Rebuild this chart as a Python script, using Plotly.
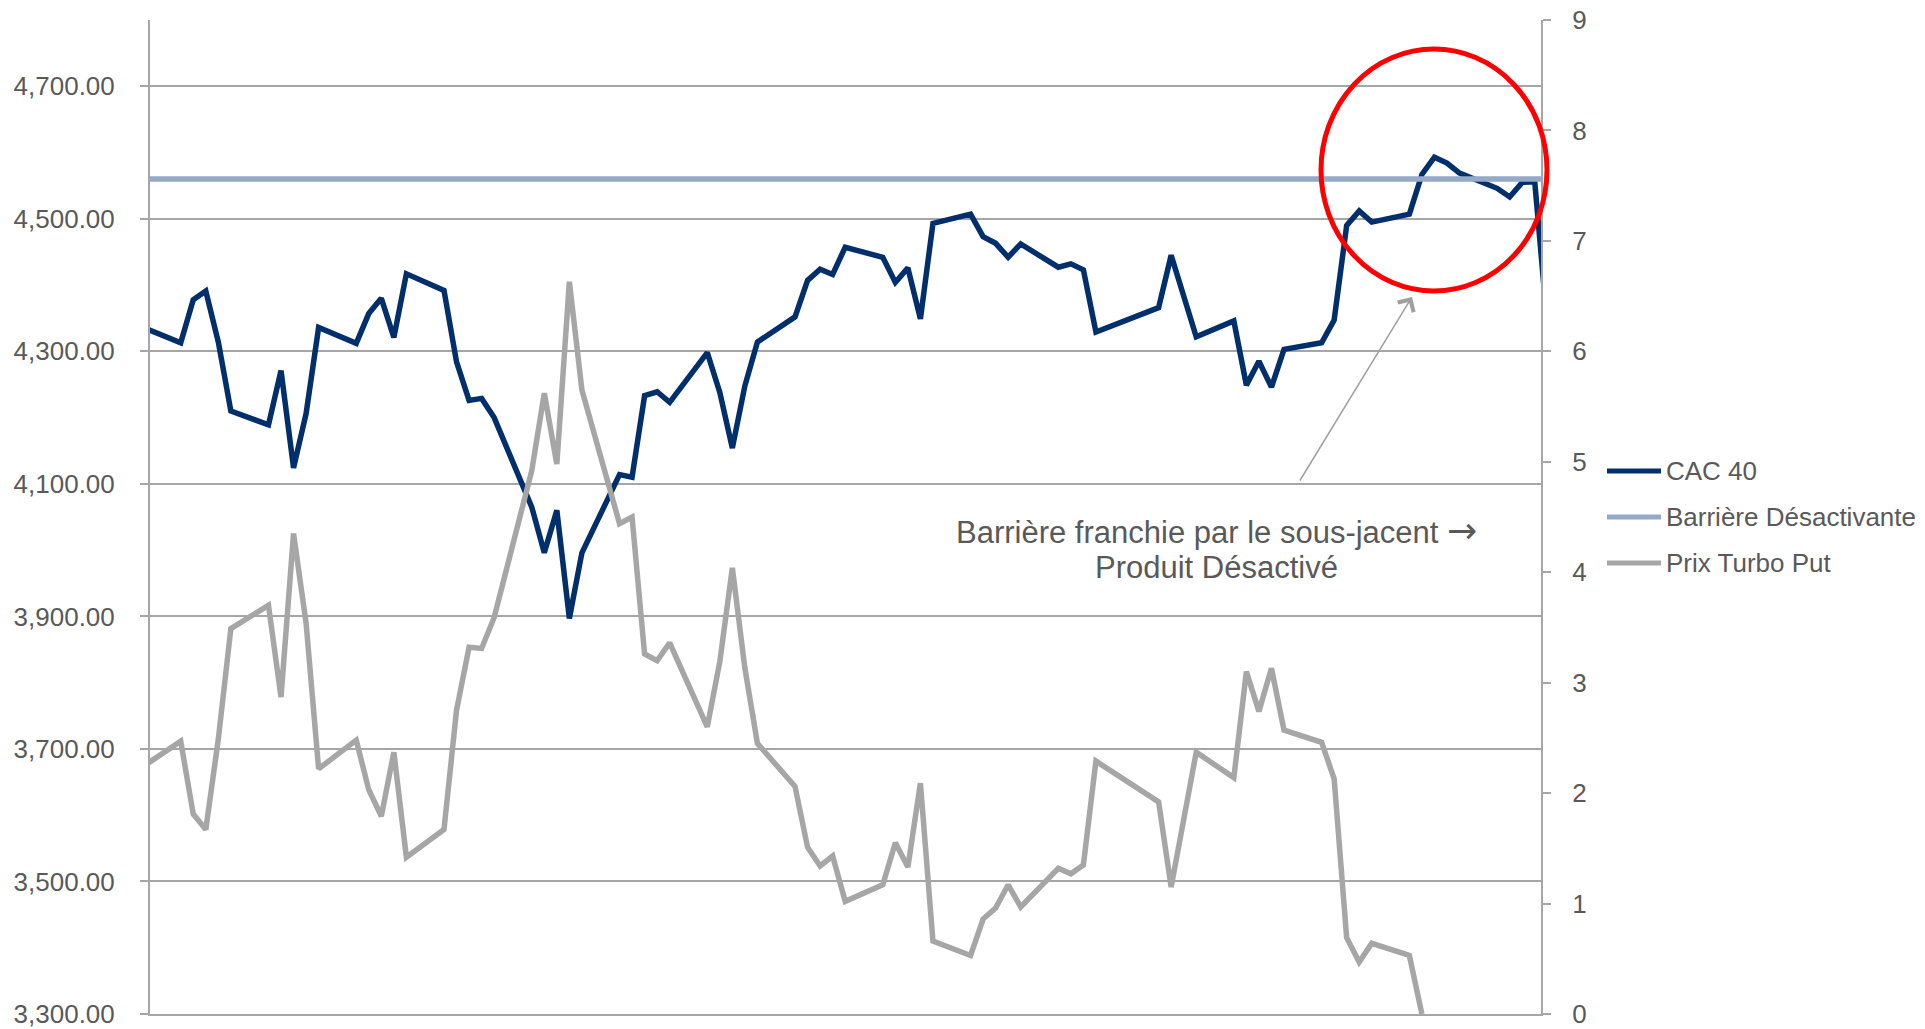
import plotly.graph_objects as go

# Trading days shown on the chart (2016)
dates = [
    "2016-01-08", "2016-01-11", "2016-01-12", "2016-01-13", "2016-01-14", "2016-01-15",
    "2016-01-18", "2016-01-19", "2016-01-20", "2016-01-21", "2016-01-22",
    "2016-01-25", "2016-01-26", "2016-01-27", "2016-01-28", "2016-01-29",
    "2016-02-01", "2016-02-02", "2016-02-03", "2016-02-04", "2016-02-05",
    "2016-02-08", "2016-02-09", "2016-02-10", "2016-02-11", "2016-02-12",
    "2016-02-15", "2016-02-16", "2016-02-17", "2016-02-18", "2016-02-19",
    "2016-02-22", "2016-02-23", "2016-02-24", "2016-02-25", "2016-02-26",
    "2016-02-29", "2016-03-01", "2016-03-02", "2016-03-03", "2016-03-04",
    "2016-03-07", "2016-03-08", "2016-03-09", "2016-03-10", "2016-03-11",
    "2016-03-14", "2016-03-15", "2016-03-16", "2016-03-17", "2016-03-18",
    "2016-03-21", "2016-03-22", "2016-03-23", "2016-03-24",
    "2016-03-29", "2016-03-30", "2016-03-31", "2016-04-01",
    "2016-04-04", "2016-04-05", "2016-04-06", "2016-04-07", "2016-04-08",
    "2016-04-11", "2016-04-12", "2016-04-13", "2016-04-14", "2016-04-15",
    "2016-04-18", "2016-04-19", "2016-04-20", "2016-04-21", "2016-04-22",
    "2016-04-25", "2016-04-26", "2016-04-27", "2016-04-28", "2016-04-29",
]

# CAC 40 closing levels (left axis)
cac40 = [
    4336, 4313, 4378, 4391, 4314, 4210,
    4189, 4271, 4124, 4206, 4336,
    4312, 4357, 4380, 4321, 4417,
    4392, 4284, 4226, 4229, 4200,
    4065, 3996, 4060, 3897, 3996,
    4114, 4110, 4233, 4239, 4223,
    4298, 4238, 4154, 4248, 4314,
    4352, 4407, 4424, 4416, 4457,
    4442, 4404, 4426, 4349, 4493,
    4507, 4473, 4463, 4442, 4462,
    4427, 4432, 4423, 4329,
    4366, 4445, 4383, 4322,
    4346, 4249, 4285, 4246, 4303,
    4313, 4347, 4490, 4512, 4495,
    4507, 4567, 4593, 4584, 4569,
    4546, 4533, 4555, 4556, 4340,
]

# Turbo put price (right axis); knocked out once the barrier is hit
turbo_put = [
    2.24, 2.47, 1.81, 1.67, 2.49, 3.49,
    3.70, 2.87, 4.35, 3.54, 2.22,
    2.48, 2.03, 1.79, 2.37, 1.42,
    1.67, 2.75, 3.32, 3.31, 3.59,
    4.92, 5.62, 4.98, 6.63, 5.65,
    4.44, 4.50, 3.26, 3.20, 3.36,
    2.60, 3.19, 4.04, 3.13, 2.45,
    2.06, 1.51, 1.34, 1.43, 1.02,
    1.17, 1.55, 1.33, 2.09, 0.66,
    0.53, 0.86, 0.96, 1.17, 0.97,
    1.32, 1.27, 1.35, 2.29,
    1.92, 1.15, 1.76, 2.37,
    2.14, 3.10, 2.74, 3.13, 2.57,
    2.46, 2.13, 0.69, 0.47, 0.64,
    0.53, 0.00, None, None, None,
    None, None, None, None, None,
]

barrier_level = 4560

series_names = ["CAC 40", "Barrière Désactivante", "Prix Turbo Put"]
series_colors = ["#002F6C", "#95A9C9", "#A6A6A6"]

left_ticks = [3300, 3500, 3700, 3900, 4100, 4300, 4500, 4700]
right_ticks = [0, 1, 2, 3, 4, 5, 6, 7, 8, 9]

note_lines = [
    'Barrière franchie par le sous-jacent '
    '<span style="font-family:DejaVu Sans;font-size:36px">\u2192</span>',
    "Produit Désactivé",
]

# ---- page geometry ----
W, H = 1925, 1029
PL, PR, PT, PB = 150, 1541, 20, 1014  # plot area edges in px
GRID = "#A6A6A6"
TEXT = "#595959"
FONT = "Liberation Sans, Arial, sans-serif"
LW = 5.5


def px_x(x):
    return (x - PL) / (PR - PL)


def px_y(y):
    return (PB - y) / (PB - PT)


fig = go.Figure()

fig.add_trace(go.Scatter(
    x=dates, y=cac40, mode="lines", name=series_names[0],
    line=dict(color=series_colors[0], width=LW), yaxis="y",
))
fig.add_trace(go.Scatter(
    x=[dates[0], dates[-1]], y=[barrier_level, barrier_level], mode="lines",
    name=series_names[1], line=dict(color=series_colors[1], width=LW), yaxis="y",
))
fig.add_trace(go.Scatter(
    x=dates, y=turbo_put, mode="lines", name=series_names[2],
    line=dict(color=series_colors[2], width=LW), yaxis="y2", connectgaps=False,
))

fig.update_layout(
    width=W, height=H, autosize=False,
    margin=dict(l=PL, r=W - PR, t=PT, b=H - PB, pad=0, autoexpand=False),
    paper_bgcolor="white", plot_bgcolor="white",
    showlegend=False,
    font=dict(family=FONT, size=26, color=TEXT),
    xaxis=dict(
        type="date", range=["2016-01-08 13:12", "2016-04-28 12:00"],
        showgrid=False, showticklabels=False, ticks="", zeroline=False,
        showline=True, linecolor=GRID, linewidth=2,
    ),
    yaxis=dict(
        range=[3300, 4800], tickvals=left_ticks, tickformat=",.2f",
        showgrid=True, gridcolor=GRID, gridwidth=2, zeroline=False,
        showline=True, linecolor=GRID, linewidth=2,
        ticks="outside", ticklen=8, tickwidth=2, tickcolor=GRID,
        ticklabelstandoff=20, ticklabeloverflow="allow",
        tickfont=dict(family=FONT, size=26, color=TEXT),
    ),
    yaxis2=dict(
        overlaying="y", side="right", range=[0, 9], tickvals=right_ticks,
        showgrid=False, zeroline=False,
        showline=True, linecolor=GRID, linewidth=2,
        ticks="outside", ticklen=8, tickwidth=2, tickcolor=GRID,
        ticklabelstandoff=16, ticklabeloverflow="allow",
        tickfont=dict(family=FONT, size=26, color=TEXT),
    ),
)

# Knock-out highlight ring
fig.add_shape(
    type="circle", xref="paper", yref="paper",
    x0=px_x(1321), x1=px_x(1547), y0=px_y(291), y1=px_y(49),
    line=dict(color="#FF0000", width=5), layer="above",
)

# Explanatory note with pointer towards the ring
fig.add_annotation(
    xref="paper", yref="paper", x=px_x(1412), y=px_y(297),
    ax=-113, ay=185, axref="pixel", ayref="pixel",
    text="", showarrow=True, arrowhead=4, arrowsize=2.4, arrowwidth=1.5,
    arrowcolor="#A0A0A0", standoff=0,
)
for i, line in enumerate(note_lines):
    fig.add_annotation(
        xref="paper", yref="paper", x=px_x(1216), y=px_y(530 + 37 * i),
        text=line, showarrow=False, xanchor="center", yanchor="middle",
        font=dict(family=FONT, size=31, color=TEXT),
    )

# Legend entries drawn to the right of the secondary axis
for i, (name, color) in enumerate(zip(series_names, series_colors)):
    yc = 471 + 46 * i
    fig.add_shape(
        type="line", xref="paper", yref="paper",
        x0=px_x(1607), x1=px_x(1661), y0=px_y(yc), y1=px_y(yc),
        line=dict(color=color, width=5),
    )
    fig.add_annotation(
        xref="paper", yref="paper", x=px_x(1664), y=px_y(yc),
        text=name, showarrow=False, xanchor="left", yanchor="middle",
        font=dict(family=FONT, size=26, color=TEXT),
    )

fig.write_html("out.html")
